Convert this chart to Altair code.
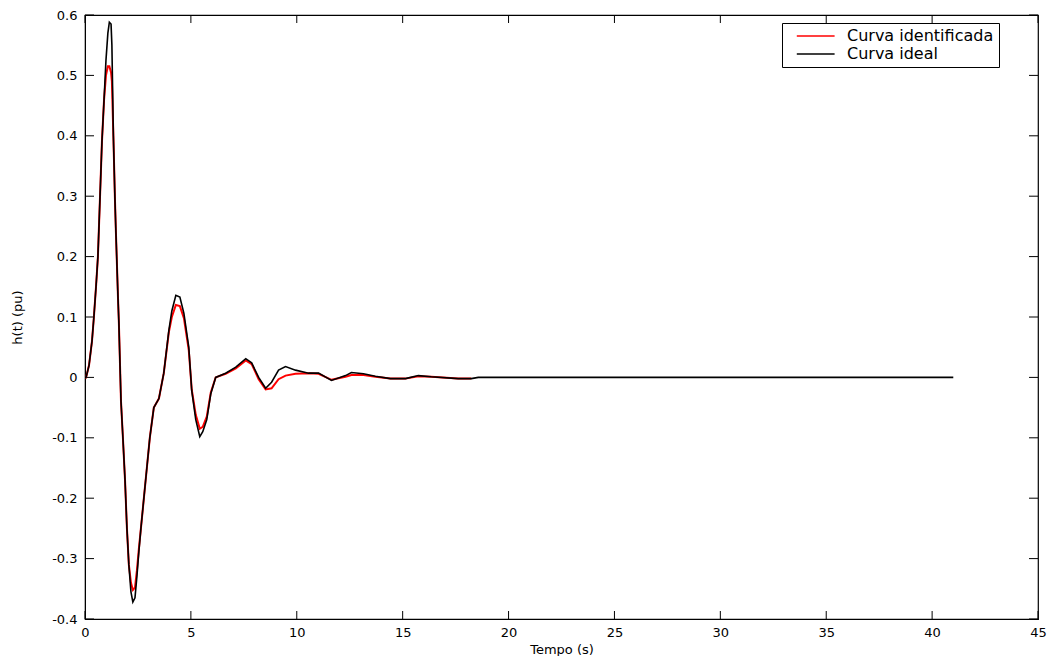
import altair as alt
import pandas as pd

# Time (s) and h(t) (pu)
t_ideal = [0.0, 0.05, 0.19, 0.33, 0.42, 0.52, 0.61, 0.71, 0.80, 0.90,
           0.99, 1.08, 1.15, 1.23, 1.27, 1.34, 1.41, 1.46, 1.56, 1.60,
           1.70, 1.79, 1.89, 1.98, 2.07, 2.17, 2.26, 2.36, 2.45, 2.54,
           2.64, 2.78, 2.92, 3.06, 3.25, 3.49, 3.72, 3.96, 4.10, 4.29,
           4.48, 4.67, 4.90, 5.04, 5.23, 5.42, 5.56, 5.75, 5.94, 6.17,
           6.64, 7.12, 7.59, 7.87, 8.20, 8.53, 8.81, 9.14, 9.47, 9.94,
           10.56, 11.03, 11.64, 12.30, 12.58, 13.15, 13.71, 14.42, 15.13, 15.74,
           16.35, 17.62, 18.24, 18.57, 41.0]
v_ideal = [0.0, 0.0, 0.02, 0.06, 0.10, 0.15, 0.20, 0.30, 0.39, 0.46,
           0.525, 0.57, 0.588, 0.585, 0.55, 0.40, 0.30, 0.24, 0.13, 0.09,
           -0.04, -0.10, -0.17, -0.25, -0.31, -0.355, -0.372, -0.365, -0.33, -0.29,
           -0.25, -0.20, -0.15, -0.10, -0.05, -0.035, 0.007, 0.078, 0.11, 0.136,
           0.133, 0.106, 0.05, -0.022, -0.07, -0.098, -0.09, -0.07, -0.027, 0.0,
           0.007, 0.017, 0.031, 0.024, 0.0, -0.018, -0.008, 0.012, 0.018, 0.012,
           0.007, 0.007, -0.005, 0.003, 0.008, 0.006, 0.002, -0.002, -0.002, 0.003,
           0.001, -0.002, -0.002, 0.0, 0.0]

t_ident = [0.0, 0.05, 0.19, 0.33, 0.42, 0.52, 0.61, 0.71, 0.80, 0.90,
           0.99, 1.08, 1.15, 1.23, 1.27, 1.34, 1.41, 1.46, 1.56, 1.60,
           1.70, 1.79, 1.89, 1.98, 2.07, 2.17, 2.26, 2.36, 2.45, 2.54,
           2.64, 2.78, 2.92, 3.06, 3.25, 3.49, 3.72, 3.96, 4.10, 4.29,
           4.48, 4.67, 4.90, 5.04, 5.23, 5.42, 5.56, 5.75, 5.94, 6.17,
           6.64, 7.12, 7.59, 7.87, 8.20, 8.53, 8.81, 9.14, 9.47, 9.94,
           10.56, 11.03, 11.64, 12.30, 12.58, 13.15, 13.71, 14.42, 15.13, 15.74,
           16.35, 17.62, 18.24]
v_ident = [0.0, 0.0, 0.02, 0.06, 0.10, 0.15, 0.20, 0.30, 0.39, 0.46,
           0.50, 0.515, 0.515, 0.505, 0.49, 0.40, 0.30, 0.24, 0.13, 0.09,
           -0.04, -0.10, -0.17, -0.25, -0.31, -0.34, -0.352, -0.348, -0.32, -0.285,
           -0.25, -0.20, -0.15, -0.10, -0.05, -0.035, 0.007, 0.075, 0.10, 0.12,
           0.118, 0.098, 0.045, -0.02, -0.062, -0.085, -0.082, -0.065, -0.025, 0.0,
           0.006, 0.015, 0.028, 0.022, -0.003, -0.02, -0.018, -0.003, 0.003, 0.006,
           0.007, 0.006, -0.004, 0.001, 0.004, 0.004, 0.001, -0.002, -0.002, 0.002,
           0.001, -0.002, -0.002]

series_names = ["Curva identificada", "Curva ideal"]
series_colors = ["#ff0000", "#000000"]
x_ticks = [0, 5, 10, 15, 20, 25, 30, 35, 40, 45]
y_ticks = [-0.4, -0.3, -0.2, -0.1, 0.0, 0.1, 0.2, 0.3, 0.4, 0.5, 0.6]

df = pd.concat([
    pd.DataFrame({"t": t_ident, "h": v_ident, "serie": series_names[0]}),
    pd.DataFrame({"t": t_ideal, "h": v_ideal, "serie": series_names[1]}),
])
xt_df = pd.DataFrame({"t": x_ticks})
yt_df = pd.DataFrame({"h": y_ticks})

FONT = "DejaVu Sans"
W, H = 953, 604
TICK = 8

x_enc = alt.X(
    "t:Q",
    scale=alt.Scale(domain=[0, 45], nice=False, zero=False),
    axis=alt.Axis(
        values=x_ticks, title="Tempo (s)", ticks=False, grid=False,
        labelPadding=7, labelFontSize=13, labelFont=FONT, labelColor="black",
        labelFlush=False, domainColor="black",
        titleFont=FONT, titleFontSize=13, titleFontWeight="normal", titleColor="black",
        titleY=30, titleBaseline="middle",
    ),
)
y_enc = alt.Y(
    "h:Q",
    scale=alt.Scale(domain=[-0.4, 0.6], nice=False, zero=False),
    axis=alt.Axis(
        values=y_ticks, title="h(t) (pu)", ticks=False, grid=False,
        labelExpr="abs(datum.value) < 1e-9 ? '0' : (datum.value < 0 ? '-' : '') + format(abs(datum.value), '.1f')",
        labelPadding=8, labelFontSize=13, labelFont=FONT, labelColor="black",
        labelFlush=False, domainColor="black",
        titleFont=FONT, titleFontSize=13, titleFontWeight="normal", titleColor="black",
        titleX=-68, titleY=302, titleAlign="center", titleBaseline="middle",
    ),
)
color_enc = alt.Color(
    "serie:N",
    scale=alt.Scale(domain=series_names, range=series_colors),
    legend=alt.Legend(
        title=None, orient="none", legendX=697, legendY=8,
        fillColor="white", strokeColor="black", padding=5,
        symbolType="M0.3,0H6.6", symbolSize=144, symbolStrokeWidth=1.6,
        labelFont=FONT, labelFontSize=16, labelColor="black", labelOffset=44,
        rowPadding=2, labelLimit=300,
    ),
)

red = alt.Chart(df).transform_filter(
    alt.datum.serie == series_names[0]
).mark_line(strokeWidth=2.0).encode(x=x_enc, y=y_enc, color=color_enc, order="t:Q")

black = alt.Chart(df).transform_filter(
    alt.datum.serie == series_names[1]
).mark_line(strokeWidth=1.6).encode(x=x_enc, y=y_enc, color=color_enc, order="t:Q")

# inward ticks on all four sides (MATLAB box style)
xt_bottom = alt.Chart(xt_df).mark_rule(color="black", strokeWidth=1).encode(
    x=x_enc, y=alt.value(H), y2=alt.value(H - TICK))
xt_top = alt.Chart(xt_df).mark_rule(color="black", strokeWidth=1).encode(
    x=x_enc, y=alt.value(0), y2=alt.value(TICK))
yt_left = alt.Chart(yt_df).mark_rule(color="black", strokeWidth=1).encode(
    y=y_enc, x=alt.value(0), x2=alt.value(TICK + 1))
yt_right = alt.Chart(yt_df).mark_rule(color="black", strokeWidth=1).encode(
    y=y_enc, x=alt.value(W - TICK - 1), x2=alt.value(W))

chart = alt.layer(xt_bottom, xt_top, yt_left, yt_right, red, black).properties(
    width=W, height=H,
    padding={"left": 77, "top": 7, "right": 10, "bottom": 37},
    autosize=alt.AutoSizeParams(type="none"),
    background="white",
).configure_view(stroke="black", strokeWidth=1.2)

chart.save("out.html", embed_options={"renderer": "svg", "actions": False})
